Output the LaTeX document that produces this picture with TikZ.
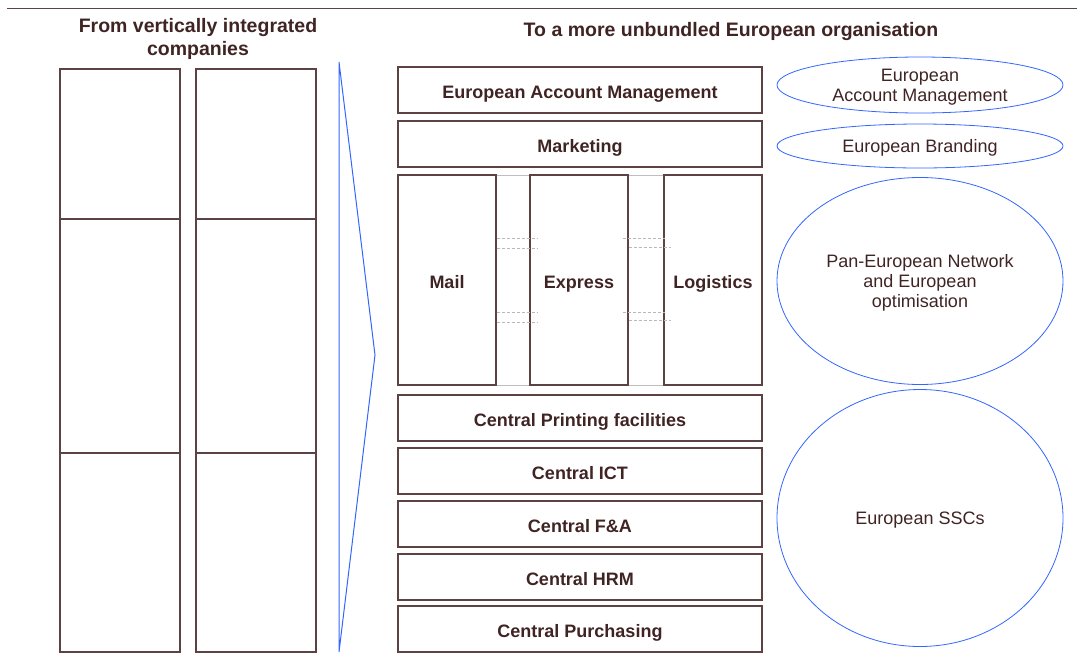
\documentclass[tikz,border=0pt]{standalone}
\usepackage{fontspec}
\setmainfont{Liberation Sans}
\usetikzlibrary{shapes.geometric}

\definecolor{ink}{RGB}{64,36,36}
\definecolor{edge}{RGB}{92,66,66}
\definecolor{chev}{RGB}{51,102,255}

\begin{document}
\begin{tikzpicture}[x=1pt, y=-1pt,
    box/.style={draw=edge, line width=1.1pt, inner sep=0pt, minimum width=364pt, minimum height=46pt,
        text=ink, text height=17pt, text depth=0pt, font=\fontsize{18}{21}\selectfont\bfseries},
    col/.style={draw=edge, line width=1.1pt, inner sep=0pt, minimum width=98pt, minimum height=210pt,
        text=ink, text height=17pt, text depth=0pt, font=\fontsize{18}{21}\selectfont\bfseries},
    cell/.style={draw=edge, line width=1.1pt, inner sep=0pt, minimum width=120pt},
    oval/.style={ellipse, draw=chev, line width=0.8pt, inner sep=0pt, minimum width=286pt,
        text=ink, align=center, text depth=0pt, font=\fontsize{18}{20}\selectfont},
    title/.style={text=ink, align=center, font=\fontsize{19.5}{23}\selectfont\bfseries},
    link/.style={draw=gray!55, line width=0.5pt, densely dashed}]
    \useasboundingbox (0,0) rectangle (1077,656);
    \draw[edge, line width=1pt] (7,8) -- (1077,8);

    % headings
    \node[title] (from) at (198,38.5) {From vertically integrated\\companies};
    \node[title] (to) at (731,31) {To a more unbundled European organisation};

    % vertically integrated companies
    \foreach \x/\n in {120/a, 256/b} {
        \node[cell, minimum height=150pt] (\n1) at (\x,144) {};
        \node[cell, minimum height=234pt] (\n2) at (\x,336) {};
        \node[cell, minimum height=199pt] (\n3) at (\x,552.5) {};
    }

    % chevron
    \draw[chev, line width=1pt, line join=miter] (339,62) -- (339,652) -- (375,355) -- cycle;

    % unbundled organisation
    \node[box] (eam) at (580,90) {European Account Management};
    \node[box] (mkt) at (580,144) {Marketing};
    \node[draw=gray!50, line width=0.6pt, minimum width=364pt, minimum height=210pt, inner sep=0pt] (net) at (580,280) {};
    \node[col] (mail) at (447,280) {Mail};
    \node[col] (express) at (579,280) {Express};
    \node[col] (logistics) at (713,280) {Logistics};
    \node[box] (print) at (580,418) {Central Printing facilities};
    \node[box] (ict) at (580,471) {Central ICT};
    \node[box] (fa) at (580,524) {Central F\&A};
    \node[box] (hrm) at (580,577) {Central HRM};
    \node[box] (purch) at (580,629) {Central Purchasing};

    % links between the networks
    \foreach \y in {-42,-32,32,42} {
        \draw[link] ([yshift=\y pt]mail.east) -- ([xshift=8pt, yshift=\y pt]express.west);
    }
    \foreach \y/\s in {-40/0,-32/-6,33/0,42/-6} {
        \draw[link] ([xshift=\s pt, yshift=\y pt]express.east) -- ([xshift=\s pt+8pt, yshift=\y pt]logistics.west);
    }

    % European scope
    \node[oval, minimum height=56pt] (o1) at (920,85) {European\\Account Management};
    \node[oval, minimum height=44pt] (o2) at (920,146) {European Branding};
    \node[oval, minimum height=207pt] (o3) at (920,281) {Pan-European Network\\and European\\optimisation};
    \node[oval, minimum height=257pt] (o4) at (920,518) {European SSCs};
\end{tikzpicture}
\end{document}
